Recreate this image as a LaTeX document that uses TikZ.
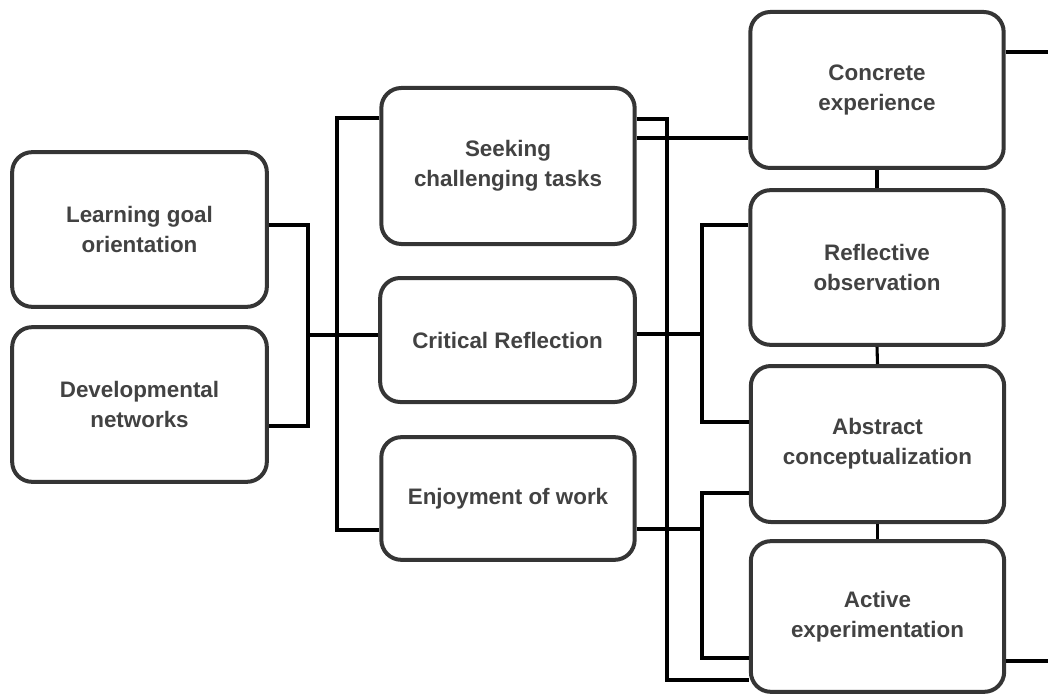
\documentclass[tikz,border=0pt]{standalone}
\usepackage{fontspec}
\setmainfont{Liberation Sans}
\definecolor{boxline}{HTML}{353535}
\definecolor{boxtext}{HTML}{424242}
\begin{document}
\begin{tikzpicture}[x=0.75pt,y=-0.75pt,
        box/.style={draw=boxline,line width=3pt,rounded corners=15pt,fill=white,
            inner sep=0pt,align=center,text=boxtext,
            font=\fontsize{16.8}{22.5}\selectfont\bfseries},
        conn/.style={draw=black,line width=2.3pt}]
        \useasboundingbox (0,0) rectangle (1048,695);

        \node[box,minimum width=191pt,minimum height=116pt] (lgo) at (139.5,229.5) {Learning goal\\orientation};
        \node[box,minimum width=191pt,minimum height=116pt] (dn) at (139.5,404.5) {Developmental\\networks};

        \node[box,minimum width=190pt,minimum height=117pt] (seek) at (508,166) {Seeking\\challenging tasks};
        \node[box,minimum width=191pt,minimum height=93pt] (crit) at (507.5,340) {Critical Reflection};
        \node[box,minimum width=190pt,minimum height=92pt] (enjoy) at (508,498.5) {Enjoyment of work};

        \node[box,minimum width=190pt,minimum height=117pt] (conc) at (877,90) {Concrete\\experience};
        \node[box,minimum width=190pt,minimum height=116pt] (refl) at (877,267.5) {Reflective\\observation};
        \node[box,minimum width=190pt,minimum height=117pt] (abst) at (877.5,444) {Abstract\\conceptualization};
        \node[box,minimum width=190pt,minimum height=113pt] (actv) at (877.5,616.5) {Active\\experimentation};

        % bends
        \coordinate (b1) at (308,225);
        \coordinate (b2) at (308,426);
        \coordinate (b3) at (308,335);
        \coordinate (m1) at (337,118);
        \coordinate (m2) at (337,530);
        \coordinate (r1) at (667,119);
        \coordinate (r2) at (667,680);
        \coordinate (r3) at (700,138);
        \coordinate (r4) at (702,334);
        \coordinate (r5) at (702,225);
        \coordinate (r6) at (702,422);
        \coordinate (r7) at (702,529);
        \coordinate (r8) at (702,493);
        \coordinate (r9) at (702,658);
        \coordinate (e1) at (1048,52);
        \coordinate (e2) at (1048,661);

        \draw[conn] (lgo.east |- b1) -- (b1) -- (b2) -- (dn.east |- b2);
        \draw[conn] (b3) -- (crit.west |- b3);
        \draw[conn] (seek.west |- m1) -- (m1) -- (m2) -- (enjoy.west |- m2);

        \draw[conn] (seek.east |- r1) -- (r1) -- (r2) -- (actv.west |- r2);
        \draw[conn] (seek.east |- r3) -- (conc.west |- r3);
        \draw[conn] (crit.east |- r4) -- (r4);
        \draw[conn] (refl.west |- r5) -- (r5) -- (r6) -- (abst.west |- r6);
        \draw[conn] (enjoy.east |- r7) -- (r7);
        \draw[conn] (abst.west |- r8) -- (r8) -- (r9) -- (actv.west |- r9);

        \foreach \a/\b in {conc/refl,refl/abst,abst/actv}
            \draw[conn] (\a.south) -- (\b.north);

        \draw[conn] (conc.east |- e1) -- (e1);
        \draw[conn] (actv.east |- e2) -- (e2);
    \end{tikzpicture}
\end{document}
